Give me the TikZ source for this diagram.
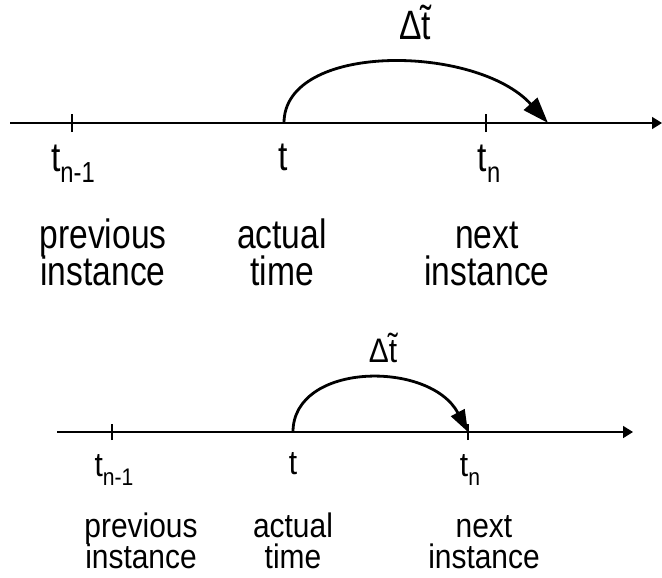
\documentclass[tikz,border=0pt]{standalone}
\usepackage{fontspec}
\setmainfont{Liberation Sans}
\newfontfamily\topf[FakeStretch=0.82]{Liberation Sans}
\newfontfamily\botf[FakeStretch=0.88]{Liberation Sans}
\usetikzlibrary{arrows.meta}
\newcommand{\tsub}[2]{t\raisebox{-0.28em}{\fontsize{#1}{#1}\selectfont #2}}
\begin{document}
\begin{tikzpicture}[x=1pt,y=-1pt,
  axis/.style={line width=1.6pt,-{Triangle[length=10pt,width=12pt]}},
  tick/.style={line width=1.6pt},
  jump/.style={line width=2.8pt},
  toptxt/.style={anchor=base,inner sep=0pt,font=\topf\fontsize{41}{41}\selectfont},
  bottxt/.style={anchor=base,inner sep=0pt,font=\botf\fontsize{34}{34}\selectfont}]
\useasboundingbox (0,0) rectangle (662,578);
% ---------- top diagram ----------
\coordinate (a0) at (10,123);
\coordinate (a1) at (662,123);
\coordinate (tp) at (72,123);
\coordinate (tt) at (284,123);
\coordinate (tn) at (486,123);
\coordinate (tend) at (548,123);
\draw[axis] (a0) -- (a1);
\draw[tick] ([yshift=-9pt]tp) -- ([yshift=9pt]tp);
\draw[tick] ([yshift=-9pt]tn) -- ([yshift=9pt]tn);
\draw[jump,-{Triangle[length=26pt,width=18pt]}] (tt) .. controls (284,42) and (476,44) .. (tend);
\node[toptxt] (dt1) at (415,40) {Δ\~{t}};
\node[toptxt] (l1) at (73,171) {\tsub{29}{n-1}};
\node[toptxt] (l2) at (283,170) {t};
\node[toptxt] (l3) at (489,171) {\tsub{29}{n}};
\node[toptxt] (p1) at (103,248) {previous};
\node[toptxt] (p2) at (103,285) {instance};
\node[toptxt] (c1) at (282,248) {actual};
\node[toptxt] (c2) at (282,285) {time};
\node[toptxt] (n1) at (487,248) {next};
\node[toptxt] (n2) at (487,285) {instance};
% ---------- bottom diagram ----------
\coordinate (b0) at (57,432);
\coordinate (b1) at (633,432);
\coordinate (bp) at (112,432);
\coordinate (bt) at (293,432);
\coordinate (bn) at (468,432);
\draw[axis] (b0) -- (b1);
\draw[tick] ([yshift=-8pt]bp) -- ([yshift=8pt]bp);
\draw[tick] ([yshift=-8pt]bn) -- ([yshift=8pt]bn);
\draw[jump,-{Triangle[length=22pt,width=15pt]}] (bt) .. controls (293,362) and (430,360) .. (bn);
\node[bottxt] (dt2) at (383,362) {Δ\~{t}};
\node[bottxt] (m1) at (114,476) {\tsub{24}{n-1}};
\node[bottxt] (m2) at (293,474) {t};
\node[bottxt] (m3) at (470,476) {\tsub{24}{n}};
\node[bottxt] (q1) at (141,537) {previous};
\node[bottxt] (q2) at (141,568) {instance};
\node[bottxt] (d1) at (293,537) {actual};
\node[bottxt] (d2) at (293,568) {time};
\node[bottxt] (e1) at (484,537) {next};
\node[bottxt] (e2) at (484,568) {instance};
\end{tikzpicture}
\end{document}
